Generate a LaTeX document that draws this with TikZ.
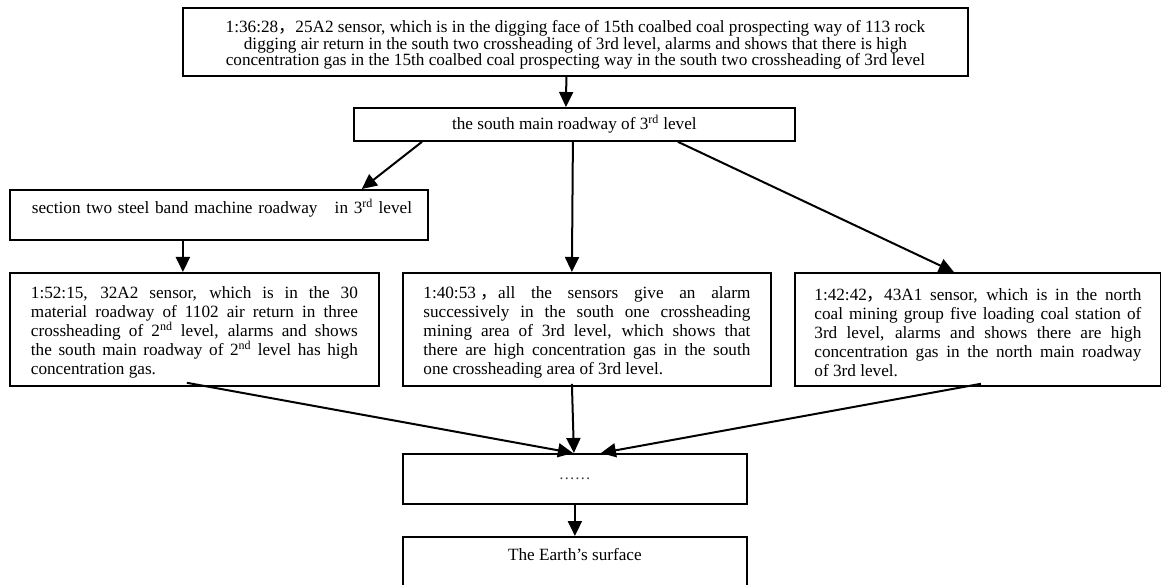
\documentclass[tikz,border=0pt]{standalone}
\usepackage{fontspec}
\setmainfont{Liberation Serif}
\newfontfamily\cjk{Noto Sans CJK SC}
\usetikzlibrary{arrows.meta}
\tikzset{
  box/.style={draw, line width=1.8pt, anchor=north west, inner sep=0pt, font=\fontsize{17.2}{19}\selectfont},
  arr/.style={line width=2pt, -{Triangle[length=15pt,width=14pt]}},
}
\begin{document}
\begin{tikzpicture}[x=1pt,y=-1pt]
\useasboundingbox (0,0) rectangle (1161,585);
\node[box, minimum width=785pt, minimum height=68pt, align=center, font=\fontsize{17.2}{16.3}\selectfont] (top) at (182,7)
 {\rule{0pt}{18pt}1:36:28{\cjk ，}25A2 sensor, which is in the digging face of 15th coalbed coal prospecting way of 113 rock\\
  digging air return in the south two crossheading of 3rd level, alarms and shows that there is high\\
  concentration gas in the 15th coalbed coal prospecting way in the south two crossheading of 3rd level};
\node[box, minimum width=441pt, minimum height=33pt] (road) at (353,107)
 {the south main roadway of 3\textsuperscript{rd} level};
\node[box, minimum width=418pt, minimum height=50pt, text height=11pt, text depth=13pt, text width=392pt, align=left] (sect) at (9,189)
 {\hspace*{9pt}section two steel band machine roadway\ \ \ in 3\textsuperscript{rd} level};
\node[box, minimum width=369pt, minimum height=113pt, text width=327pt, align=justify] (b1) at (9,272)
 {\rule{0pt}{18pt}1:52:15, 32A2 sensor, which is in the 30\linebreak
  material roadway of 1102 air return in three\linebreak
  crossheading of 2\textsuperscript{nd} level, alarms and shows\linebreak
  the south main roadway of 2\textsuperscript{nd} level has high\linebreak
  concentration gas.};
\node[box, minimum width=368pt, minimum height=113pt, text width=327pt, align=justify] (b2) at (402,272)
 {\rule{0pt}{18pt}1:40:53\hspace{5pt}{\cjk ，}all the sensors give an alarm\linebreak
  successively in the south one crossheading\linebreak
  mining area of 3rd level, which shows that\linebreak
  there are high concentration gas in the south\linebreak
  one crossheading area of 3rd level.};
\node[box, minimum width=366pt, minimum height=113pt, text width=327pt, align=justify] (b3) at (794,272)
 {\rule{0pt}{18pt}1:42:42{\cjk ，}43A1 sensor, which is in the north\linebreak
  coal mining group five loading coal station of\linebreak
  3rd level, alarms and shows there are high\linebreak
  concentration gas in the north main roadway\linebreak
  of 3rd level.};
\node[box, minimum width=344pt, minimum height=50pt, text height=1pt, text depth=0pt, text=black!75, font=\fontsize{16}{19}\selectfont] (dots) at (402,453) {……};
\node[box, minimum width=344pt, minimum height=60pt, text height=11pt, text depth=23pt] (earth) at (402,536) {The Earth’s surface};
\draw[arr] ([xshift=-9pt]top.south) -- ([xshift=-8.5pt]road.north);
\draw[arr] ([xshift=69pt]road.south west) -- ([xshift=-67pt]sect.north east);
\draw[arr] ([xshift=-1.5pt]road.south) -- ([xshift=-15pt]b2.north);
\draw[arr] ([xshift=103.5pt]road.south) -- ([xshift=-24pt]b3.north);
\draw[arr] ([xshift=-36pt]sect.south) -- ([xshift=-11.5pt]b1.north);
\draw[arr] ([xshift=-7.5pt,yshift=4pt]b1.south) -- ([xshift=-2pt]dots.north);
\draw[arr] ([xshift=-15pt,yshift=3pt]b2.south) -- ([xshift=-1pt]dots.north);
\draw[arr] ([xshift=3pt,yshift=3pt]b3.south) -- ([xshift=26pt]dots.north);
\draw[arr] (dots.south) -- (earth.north);
\end{tikzpicture}
\end{document}
